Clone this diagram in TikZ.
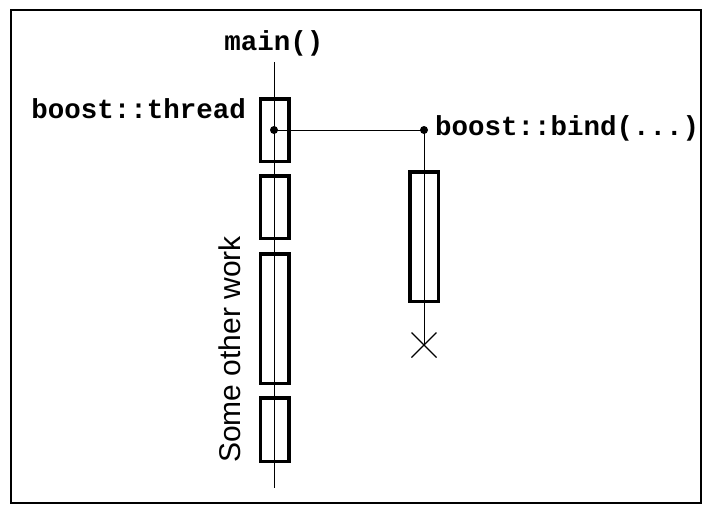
\documentclass[tikz,border=0pt]{standalone}
\usepackage{fontspec}
\setmainfont{Liberation Sans}
\setmonofont{Liberation Mono}
\usetikzlibrary{positioning}

\tikzset{
    act/.style={rectangle, draw, line width=3.5pt, minimum width=28.5pt, inner sep=0pt},
    code/.style={font=\ttfamily\bfseries\fontsize{27.5}{31}\selectfont, inner sep=0pt}
}

\begin{document}
\begin{tikzpicture}[x=1pt, y=-1pt]
    \useasboundingbox (0,0) rectangle (702,504);
    \draw[line width=2pt] (11,10) rectangle (701,503);

    \node[act, minimum height=62.5pt] (a1) at (274.5,130) {};
    \node[act, minimum height=62.5pt] (a2) at (274.5,207) {};
    \node[act, minimum height=129.5pt] (a3) at (274.5,318.5) {};
    \node[act, minimum height=63.5pt] (a4) at (274.5,429.5) {};
    \node[act, minimum height=129.5pt] (b1) at (424,236.5) {};

    \node[code, anchor=base] (main) at (274,50) {main()};
    \node[code, anchor=base east] (thread) at (246,118) {boost::thread};
    \node[code, anchor=base west] (bind) at (435,135) {boost::bind(...)};
    \node[font=\fontsize{30}{34}\selectfont, rotate=90, anchor=base west, inner sep=0pt] (work) at (240,463) {Some other work};

    \coordinate (top) at (274,62);
    \coordinate (bottom) at (274,488);
    \coordinate (spawn) at (274,130);
    \coordinate (start) at (424,130);
    \coordinate (stop) at (424,345);

    \draw (top) -- (bottom);
    \draw (spawn) -- (start) -- (stop);
    \fill (spawn) circle (4);
    \fill (start) circle (4);
    \draw[line width=1.2pt] ([shift={(-12.5,-12.5)}]stop) -- ([shift={(12.5,12.5)}]stop);
    \draw[line width=1.2pt] ([shift={(-12.5,12.5)}]stop) -- ([shift={(12.5,-12.5)}]stop);
\end{tikzpicture}
\end{document}
